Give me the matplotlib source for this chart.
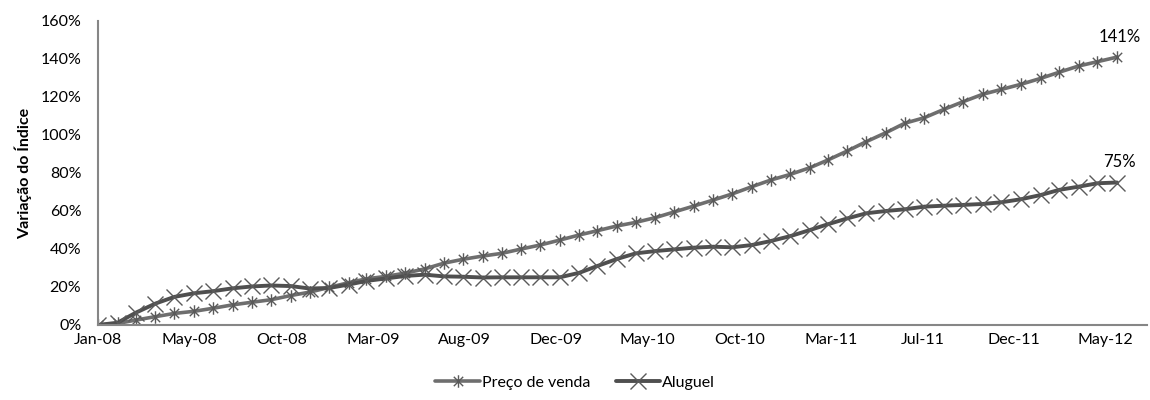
"""Variação acumulada dos índices de preço de venda e aluguel, jan/2008 a jun/2012."""

import matplotlib

matplotlib.use("Agg")
import matplotlib.dates as mdates
import matplotlib.pyplot as plt
import pandas as pd
from matplotlib.path import Path
from matplotlib.ticker import FuncFormatter

# Monthly observations, Jan-08 .. Jun-12 (accumulated change, %)
MONTHS = pd.date_range("2008-01-01", "2012-06-01", freq="MS")

PRECO_VENDA = [
    0.0, 0.8, 2.6, 4.4, 6.1, 7.2, 8.8, 10.6, 12.0, 13.3,
    15.5, 17.3, 19.8, 22.3, 24.3, 25.6, 27.3, 29.5, 32.5, 34.6,
    36.3, 37.7, 40.0, 42.1, 44.7, 47.4, 49.6, 52.1, 54.0, 56.5,
    59.5, 62.6, 65.8, 69.0, 72.8, 76.3, 79.3, 82.8, 86.8, 91.6,
    96.5, 101.2, 106.2, 109.1, 113.5, 117.5, 121.4, 124.0, 126.7, 129.8,
    133.0, 136.3, 138.6, 141.0,
]

ALUGUEL = [
    0.0, 1.2, 6.5, 11.3, 14.8, 16.7, 17.8, 19.3, 20.3, 20.8,
    20.5, 19.2, 19.5, 21.3, 23.2, 24.5, 25.8, 26.5, 25.6, 25.4,
    25.0, 25.1, 25.1, 25.1, 25.1, 27.5, 31.0, 34.7, 37.7, 38.9,
    39.8, 40.7, 41.2, 40.9, 42.1, 44.2, 46.8, 50.0, 53.0, 56.1,
    58.8, 60.0, 60.9, 62.3, 62.8, 63.2, 63.7, 64.6, 66.2, 68.4,
    71.1, 72.8, 74.6, 75.0,
]

SERIES_LABELS = ["Preço de venda", "Aluguel"]
Y_TICKS = [0, 20, 40, 60, 80, 100, 120, 140, 160]

# Date-axis labels fall every 145 days, as in the spreadsheet the chart came from
X_TICKS = pd.date_range("2008-01-01", periods=12, freq="145D")

FONT = ["Lato", "DejaVu Sans"]
plt.rcParams["font.family"] = FONT
FS = 11.5

# Asterisk marker: one vertical stroke plus an X
STAR = Path(
    [(0, -1), (0, 1), (-0.75, -0.75), (0.75, 0.75), (-0.75, 0.75), (0.75, -0.75)],
    [Path.MOVETO, Path.LINETO, Path.MOVETO, Path.LINETO, Path.MOVETO, Path.LINETO],
)


def main() -> None:
    fig = plt.figure(figsize=(11.5, 4.0), dpi=100)
    ax = fig.add_axes([0.0852, 0.1875, 0.912, 0.76])

    ax.plot(
        MONTHS, PRECO_VENDA, color="#6e6e6e", lw=2.6, marker=STAR, ms=9,
        mec="#5a5a5a", mew=1.0, label=SERIES_LABELS[0], solid_capstyle="round",
    )
    ax.plot(
        MONTHS, ALUGUEL, color="#4f4f4f", lw=2.8, marker="x", ms=11,
        mec="#5a5a5a", mew=1.0, label=SERIES_LABELS[1], solid_capstyle="round",
    )

    for values in (PRECO_VENDA, ALUGUEL):
        ax.annotate(
            f"{values[-1]:.0f}%", (MONTHS[-1], values[-1]),
            xytext=(2, 9), textcoords="offset points",
            ha="center", va="bottom", fontsize=FS + 0.5, color="#000000",
        )

    ax.set_xlim(pd.Timestamp("2008-01-01"), pd.Timestamp("2012-07-18"))
    ax.set_ylim(0, 160)
    ax.set_yticks(Y_TICKS)
    ax.yaxis.set_major_formatter(FuncFormatter(lambda v, _: f"{v:.0f}%"))
    ax.set_xticks(X_TICKS)
    ax.xaxis.set_major_formatter(mdates.DateFormatter("%b-%y"))

    ax.tick_params(axis="both", length=0, labelsize=FS, colors="#000000")
    ax.tick_params(axis="y", pad=12)
    ax.tick_params(axis="x", pad=6)

    for side in ("top", "right"):
        ax.spines[side].set_visible(False)
    for side in ("left", "bottom"):
        ax.spines[side].set_color("#868686")
        ax.spines[side].set_linewidth(1.5)

    ax.set_ylabel("Variação do Índice", fontsize=FS, fontweight="bold", labelpad=6)

    fig.legend(
        loc="center", bbox_to_anchor=(0.5, 0.043), ncol=2, frameon=False,
        fontsize=FS, handlelength=2.8, handletextpad=0.1, columnspacing=1.6,
    )

    fig.savefig("out.png", dpi=100)
    plt.close(fig)


if __name__ == "__main__":
    main()
